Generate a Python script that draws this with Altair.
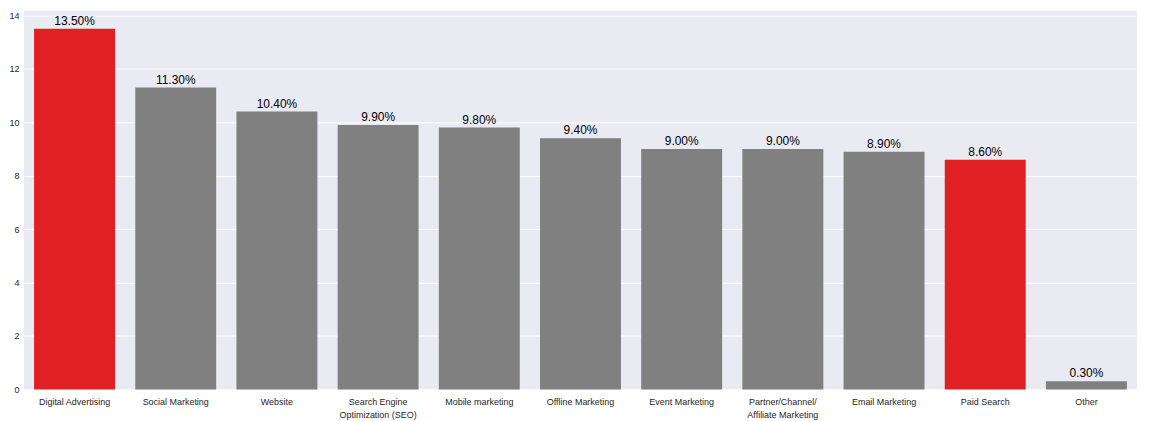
import altair as alt
import pandas as pd

categories = ["Digital Advertising", "Social Marketing", "Website",
              "Search Engine\nOptimization (SEO)", "Mobile marketing",
              "Offline Marketing", "Event Marketing",
              "Partner/Channel/\nAffiliate Marketing", "Email Marketing",
              "Paid Search", "Other"]
values = [13.5, 11.3, 10.4, 9.9, 9.8, 9.4, 9.0, 9.0, 8.9, 8.6, 0.3]
highlight = [True, False, False, False, False, False, False, False, False, True, False]

df = pd.DataFrame({
    "cat": categories,
    "val": values,
    "hl": ["red" if h else "gray" for h in highlight],
    "label": [f"{v:.2f}%" for v in values],
})

x = alt.X("cat:N", sort=None, title=None,
          scale=alt.Scale(paddingInner=0.2, paddingOuter=0.1),
          axis=alt.Axis(labelAngle=0, labelExpr="split(datum.label, '\\n')",
                        labelFontSize=9, labelColor="#262626", tickSize=0,
                        labelPadding=8, domain=False, grid=False,
                        labelFont="Liberation Sans", labelLineHeight=13))
y = alt.Y("val:Q", title=None,
          scale=alt.Scale(domain=[0, 14.175], nice=False, zero=True),
          axis=alt.Axis(values=[0, 2, 4, 6, 8, 10, 12, 14], labelFontSize=9,
                        labelColor="#262626", tickSize=0, labelPadding=5,
                        domain=False, gridColor="white", gridWidth=1,
                        labelFont="Liberation Sans"))

bars = alt.Chart(df).mark_bar().encode(
    x=x, y=y,
    color=alt.Color("hl:N", scale=alt.Scale(domain=["red", "gray"],
                                            range=["#E02022", "#808080"]),
                    legend=None),
)
text = alt.Chart(df).mark_text(baseline="bottom", dy=-1, fontSize=12,
                               font="Liberation Sans", color="black").encode(
    x=alt.X("cat:N", sort=None), y="val:Q", text="label:N")

chart = (bars + text).properties(
    width=1117, height=380,
    background="white",
    padding={"left": 0, "top": 2, "right": 5, "bottom": 0},
).configure_view(fill="#EAEAF2", stroke=None)

chart.save("out.html", embed_options={"renderer": "svg", "actions": False})
